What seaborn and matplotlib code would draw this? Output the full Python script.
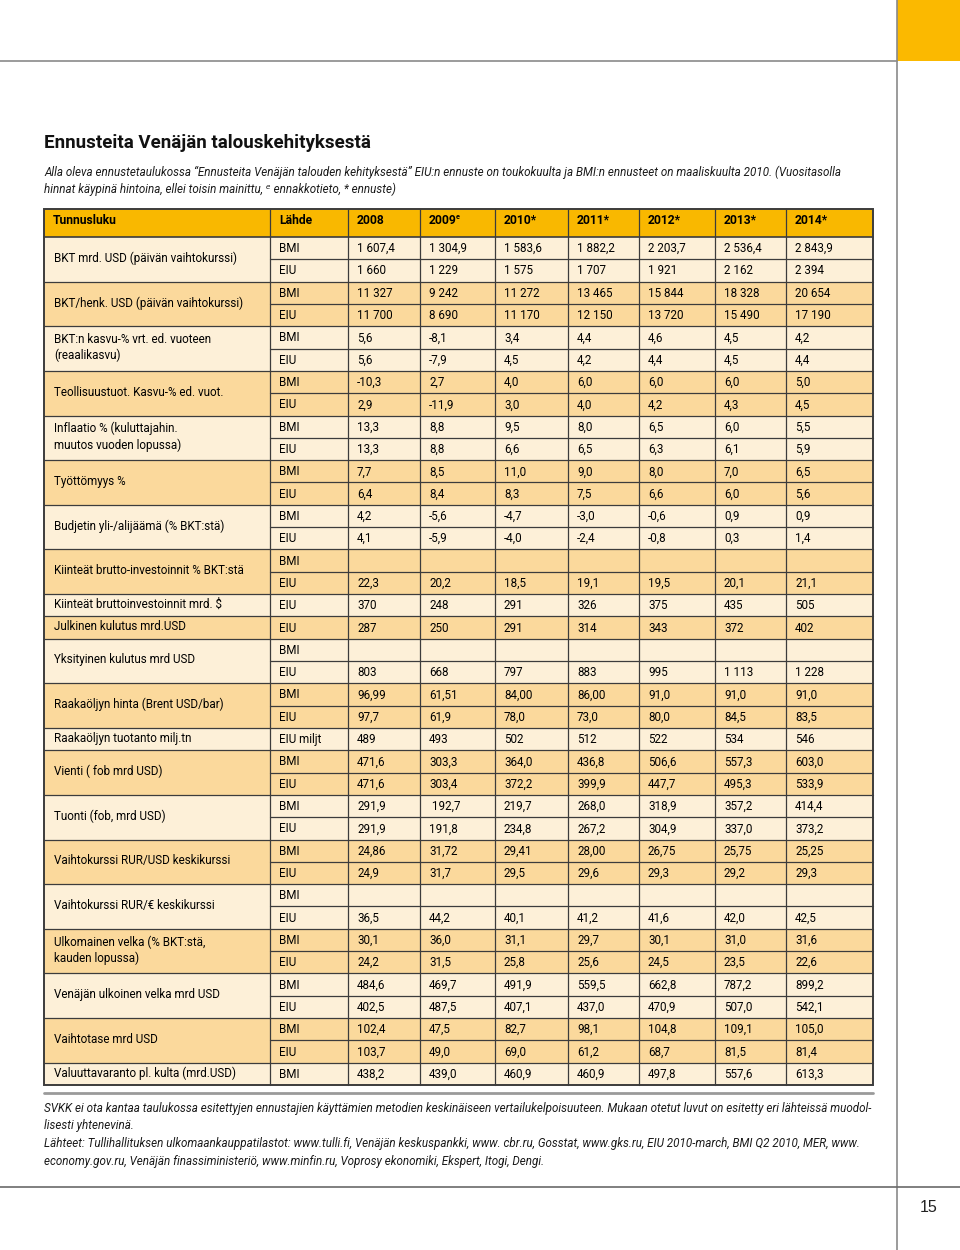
import matplotlib
matplotlib.use("Agg")
import matplotlib.pyplot as plt
from matplotlib.colors import ListedColormap
from matplotlib.patches import Rectangle
import numpy as np
import pandas as pd
import seaborn as sns

sns.set_theme(style="white")
plt.rcParams['font.family'] = ['Roboto', 'DejaVu Sans']

# ---- data ----
indicators = [
    "BKT mrd. USD (päivän vaihtokurssi)",
    "BKT/henk. USD (päivän vaihtokurssi)",
    "BKT:n kasvu-% vrt. ed. vuoteen\n(reaalikasvu)",
    "Teollisuustuot. Kasvu-% ed. vuot.",
    "Inflaatio % (kuluttajahin.\nmuutos vuoden lopussa)",
    "Työttömyys %",
    "Budjetin yli-/alijäämä (% BKT:stä)",
    "Kiinteät brutto-investoinnit % BKT:stä",
    "Kiinteät bruttoinvestoinnit mrd. $",
    "Julkinen kulutus mrd.USD",
    "Yksityinen kulutus mrd USD",
    "Raakaöljyn hinta (Brent USD/bar)",
    "Raakaöljyn tuotanto milj.tn",
    "Vienti ( fob mrd USD)",
    "Tuonti (fob, mrd USD)",
    "Vaihtokurssi RUR/USD keskikurssi",
    "Vaihtokurssi RUR/€ keskikurssi",
    "Ulkomainen velka (% BKT:stä,\nkauden lopussa)",
    "Venäjän ulkoinen velka mrd USD",
    "Vaihtotase mrd USD",
    "Valuuttavaranto pl. kulta (mrd.USD)",
]
group_sizes = [2, 2, 2, 2, 2, 2, 2, 2, 1, 1, 2, 2, 1, 2, 2, 2, 2, 2, 2, 2, 1]

sources = ["BMI", "EIU", "BMI", "EIU", "BMI", "EIU", "BMI", "EIU", "BMI", "EIU",
           "BMI", "EIU", "BMI", "EIU", "BMI", "EIU", "EIU", "EIU", "BMI", "EIU",
           "BMI", "EIU", "EIU miljt", "BMI", "EIU", "BMI", "EIU", "BMI", "EIU", "BMI",
           "EIU", "BMI", "EIU", "BMI", "EIU", "BMI", "EIU", "BMI"]

header = ["Tunnusluku", "Lähde", "2008", "2009", "2010*", "2011*", "2012*", "2013*", "2014*"]
header_sup = ["", "", "", "e", "", "", "", "", ""]

y2008 = ["1 607,4", "1 660", "11 327", "11 700", "5,6", "5,6", "-10,3", "2,9", "13,3", "13,3",
         "7,7", "6,4", "4,2", "4,1", "", "22,3", "370", "287", "", "803",
         "96,99", "97,7", "489", "471,6", "471,6", "291,9", "291,9", "24,86", "24,9", "",
         "36,5", "30,1", "24,2", "484,6", "402,5", "102,4", "103,7", "438,2"]
y2009 = ["1 304,9", "1 229", "9 242", "8 690", "-8,1", "-7,9", "2,7", "-11,9", "8,8", "8,8",
         "8,5", "8,4", "-5,6", "-5,9", "", "20,2", "248", "250", "", "668",
         "61,51", "61,9", "493", "303,3", "303,4", " 192,7", "191,8", "31,72", "31,7", "",
         "44,2", "36,0", "31,5", "469,7", "487,5", "47,5", "49,0", "439,0"]
y2010 = ["1 583,6", "1 575", "11 272", "11 170", "3,4", "4,5", "4,0", "3,0", "9,5", "6,6",
         "11,0", "8,3", "-4,7", "-4,0", "", "18,5", "291", "291", "", "797",
         "84,00", "78,0", "502", "364,0", "372,2", "219,7", "234,8", "29,41", "29,5", "",
         "40,1", "31,1", "25,8", "491,9", "407,1", "82,7", "69,0", "460,9"]
y2011 = ["1 882,2", "1 707", "13 465", "12 150", "4,4", "4,2", "6,0", "4,0", "8,0", "6,5",
         "9,0", "7,5", "-3,0", "-2,4", "", "19,1", "326", "314", "", "883",
         "86,00", "73,0", "512", "436,8", "399,9", "268,0", "267,2", "28,00", "29,6", "",
         "41,2", "29,7", "25,6", "559,5", "437,0", "98,1", "61,2", "460,9"]
y2012 = ["2 203,7", "1 921", "15 844", "13 720", "4,6", "4,4", "6,0", "4,2", "6,5", "6,3",
         "8,0", "6,6", "-0,6", "-0,8", "", "19,5", "375", "343", "", "995",
         "91,0", "80,0", "522", "506,6", "447,7", "318,9", "304,9", "26,75", "29,3", "",
         "41,6", "30,1", "24,5", "662,8", "470,9", "104,8", "68,7", "497,8"]
y2013 = ["2 536,4", "2 162", "18 328", "15 490", "4,5", "4,5", "6,0", "4,3", "6,0", "6,1",
         "7,0", "6,0", "0,9", "0,3", "", "20,1", "435", "372", "", "1 113",
         "91,0", "84,5", "534", "557,3", "495,3", "357,2", "337,0", "25,75", "29,2", "",
         "42,0", "31,0", "23,5", "787,2", "507,0", "109,1", "81,5", "557,6"]
y2014 = ["2 843,9", "2 394", "20 654", "17 190", "4,2", "4,4", "5,0", "4,5", "5,5", "5,9",
         "6,5", "5,6", "0,9", "1,4", "", "21,1", "505", "402", "", "1 228",
         "91,0", "83,5", "546", "603,0", "533,9", "414,4", "373,2", "25,25", "29,3", "",
         "42,5", "31,6", "22,6", "899,2", "542,1", "105,0", "81,4", "613,3"]

title = "Ennusteita Venäjän talouskehityksestä"
subtitle = [
    "Alla oleva ennustetaulukossa \u201cEnnusteita Venäjän talouden kehityksestä\u201d EIU:n ennuste on "
    "toukokuulta ja BMI:n ennusteet on maaliskuulta 2010. (Vuositasolla",
    "hinnat käypinä hintoina, ellei toisin mainittu, \u1d49 ennakkotieto, * ennuste)",
]
footnote = [
    "SVKK ei ota kantaa taulukossa esitettyjen ennustajien käyttämien metodien keskinäiseen "
    "vertailukelpoisuuteen. Mukaan otetut luvut on esitetty eri lähteissä muodol-",
    "lisesti yhtenevinä.",
    "Lähteet: Tullihallituksen ulkomaankauppatilastot: www.tulli.fi, Venäjän keskuspankki, www. cbr.ru, "
    "Gosstat, www.gks.ru, EIU 2010-march, BMI Q2 2010, MER, www.",
    "economy.gov.ru, Venäjän finassiministeriö, www.minfin.ru, Voprosy ekonomiki, Ekspert, Itogi, Dengi.",
]

# ---- layout ----
LIGHT, DARK, ORANGE = "#fdf0d8", "#fbd99c", "#f9b800"
LINE = "#3c3c3c"
INK = "#000000"
col_edges = [44, 270, 348, 420, 495, 568, 639, 715, 786, 873]
head_top, tab_top, tab_bot = 209, 237, 1085
n_rows = len(sources)
rh = (tab_bot - tab_top) / n_rows

fig = plt.figure(figsize=(9.6, 12.5), dpi=100)
renderer = fig.canvas.get_renderer()


def fit_size(text, target, **kw):
    t = fig.text(0, 0, text, fontsize=10, **kw)
    w = t.get_window_extent(renderer).width
    t.remove()
    return 10 * target / w


# row fills: colour alternates per indicator group
parity = np.repeat(np.arange(len(group_sizes)) % 2, group_sizes)
hax = fig.add_axes([col_edges[0] / 960, 1 - tab_bot / 1250,
                    (col_edges[-1] - col_edges[0]) / 960, (tab_bot - tab_top) / 1250])
sns.heatmap(pd.DataFrame({"fill": parity}), ax=hax, cmap=ListedColormap([LIGHT, DARK]),
            vmin=0, vmax=1, cbar=False, xticklabels=False, yticklabels=False)
hax.set_axis_off()

ax = fig.add_axes([0, 0, 1, 1])
ax.set_xlim(0, 960)
ax.set_ylim(1250, 0)
ax.set_axis_off()

# page furniture
ax.add_patch(Rectangle((897, 0), 63, 61, color="#fbb900", lw=0))
ax.plot([0, 897], [61, 61], color="#8a8a8a", lw=1.2)
ax.plot([897, 897], [0, 1250], color="#8a8a8a", lw=1.2)
ax.plot([0, 960], [1187, 1187], color="#6a6a6a", lw=1.2)
ax.text(920, 1208, "15", fontsize=11.5, family="Liberation Sans", va="center", color="#222222")

# title & subtitle
ts = fit_size(title, 328, fontweight="bold")
ax.text(44, 143, title, fontsize=ts, fontweight="bold", va="center", color="#111111")
ss = fit_size(subtitle[0], 794, fontstyle="italic")
for i, line in enumerate(subtitle):
    ax.text(44, 176 + 17.5 * i, line, fontsize=ss, fontstyle="italic", va="baseline", color="#1a1a1a")

# header row
ax.add_patch(Rectangle((col_edges[0], head_top), col_edges[-1] - col_edges[0], tab_top - head_top,
                       facecolor=ORANGE, edgecolor="none"))
hs = fit_size("Tunnusluku", 64, fontweight="bold")
for x0, lab, sup in zip(col_edges[:-1], header, header_sup):
    t = ax.text(x0 + 9, 224, lab, fontsize=hs, fontweight="bold", va="baseline", color=INK)
    if sup:
        w = t.get_window_extent(renderer).width
        ax.text(x0 + 9 + w - 1, 219, sup, fontsize=hs * 0.6, fontweight="bold",
                va="baseline", color=INK)

# grid lines
bounds = np.cumsum(group_sizes)
for k in range(1, n_rows):
    y = tab_top + k * rh
    x0 = col_edges[0] if k in bounds else col_edges[1]
    ax.plot([x0, col_edges[-1]], [y, y], color=LINE, lw=0.9)
ax.plot([col_edges[0], col_edges[-1]], [tab_top, tab_top], color=LINE, lw=1.2)
for x in col_edges[1:-1]:
    ax.plot([x, x], [head_top, tab_bot], color=LINE, lw=0.9)
ax.add_patch(Rectangle((col_edges[0], head_top), col_edges[-1] - col_edges[0], tab_bot - head_top,
                       facecolor="none", edgecolor=LINE, lw=1.4))

# table text
fs = fit_size(indicators[0], 183)
starts = np.concatenate([[0], bounds[:-1]])
for lab, s, n in zip(indicators, starts, group_sizes):
    yc = tab_top + (s + n / 2) * rh - 1
    ax.text(54, yc, lab, fontsize=fs, va="center", linespacing=1.3, color=INK)

columns = [sources, y2008, y2009, y2010, y2011, y2012, y2013, y2014]
for j, vals in enumerate(columns):
    for i, v in enumerate(vals):
        ax.text(col_edges[j + 1] + 9, tab_top + (i + 0.5) * rh + 4, v, fontsize=fs,
                va="baseline", color=INK)

# footnote
ax.plot([44, 873], [1093, 1093], color="#9a9a9a", lw=2)
fns = fit_size(footnote[0], 824, fontstyle="italic")
for i, line in enumerate(footnote):
    ax.text(44, 1112 + 17.5 * i, line, fontsize=fns, fontstyle="italic", va="baseline", color="#1a1a1a")

fig.savefig("out.png", dpi=100)
